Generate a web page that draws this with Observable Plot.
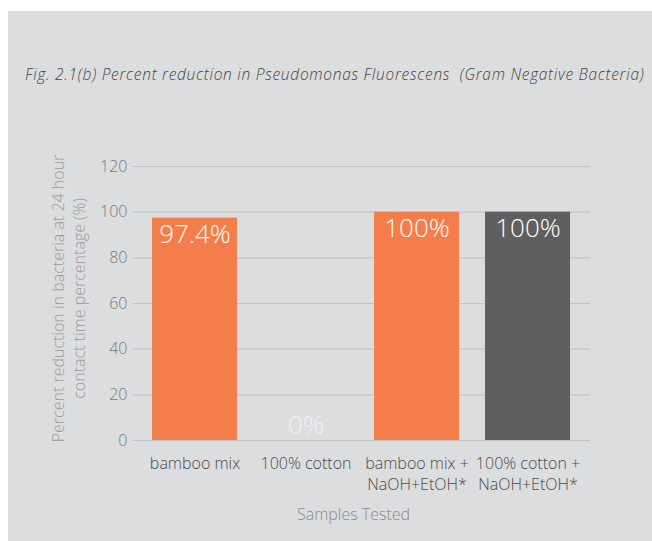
<!DOCTYPE html>
<html>
<head>
<meta charset="utf-8">
<script src="https://cdn.jsdelivr.net/npm/d3@7"></script>
<script src="https://cdn.jsdelivr.net/npm/@observablehq/plot@0.6"></script>
<style>
  html, body { margin: 0; padding: 0; background: #ffffff; width: 652px; height: 541px; overflow: hidden; }
  #panel { position: absolute; left: 8px; top: 11px; width: 644px; height: 530px; background: #dcdddf; }
  #title { position: absolute; left: 25px; top: 63px; font-family: "Open Sans", Lato, sans-serif; font-style: italic; font-size: 15.5px; letter-spacing: 0.72px; line-height: 22px; color: #444444; white-space: nowrap; font-weight: 300; }
  #chart { position: absolute; left: 0; top: 120px; }
</style>
</head>
<body>
<div id="panel"></div>
<div id="title">Fig. 2.1(b) Percent reduction in Pseudomonas Fluorescens&nbsp; (Gram Negative Bacteria)</div>
<div id="chart"></div>
<script>
const categories = ["bamboo mix", "100% cotton", "bamboo mix +\nNaOH+EtOH*", "100% cotton +\nNaOH+EtOH*"];
const values = [97.4, 0, 100, 100];
const valueLabels = ["97.4%", "0%", "100%", "100%"];
const yTicks = [0, 20, 40, 60, 80, 100, 120];
const yTitle = "Percent reduction in bacteria at 24 hour\ncontact time percentage (%)";
const xTitle = "Samples Tested";

const data = categories.map((c, i) => ({category: c, value: values[i], label: valueLabels[i]}));

const chart = Plot.plot({
  width: 652,
  height: 421,
  marginTop: 46,
  marginBottom: 101,
  marginLeft: 132,
  marginRight: 62,
  style: {background: "transparent", fontFamily: "'Open Sans', Lato, sans-serif", fontSize: "15px", fontWeight: 300, overflow: "visible"},
  x: {domain: categories, paddingInner: 0.238, paddingOuter: 0.17, label: null, axis: null},
  y: {domain: [0, 120], label: null, axis: null},
  color: {domain: categories, range: ["#f37d4b", "#f37d4b", "#f37d4b", "#5f5f61"]},
  marks: [
    Plot.ruleY(yTicks, {stroke: "#c3c4c6", strokeWidth: 1.2}),
    Plot.barY(data, {x: "category", y: "value", fill: "category"}),
    Plot.text(data.filter(d => d.value > 0), {x: "category", y: "value", text: "label", dy: 17, fill: "#ffffff", fontSize: 26, fontWeight: 300}),
    Plot.text(data.filter(d => d.value === 0), {x: "category", y: "value", text: "label", dy: -15, fill: "#ffffff", fillOpacity: 0.6, fontSize: 26, fontWeight: 300}),
    Plot.axisX({tickSize: 0, tickPadding: 13, fill: "#4a4a4a", fontSize: 16, lineHeight: 1.32, label: null}),
    Plot.axisY({ticks: yTicks, tickSize: 0, tickPadding: 5, fill: "#777777", fontSize: 16, label: null}),
    Plot.text([yTitle], {frameAnchor: "left", textAnchor: "middle", rotate: -90, dx: -65, dy: -5, text: d => d, fill: "#9a9a9a", fontSize: 16, lineHeight: 1.35}),
    Plot.text([xTitle], {frameAnchor: "bottom", dx: -8, dy: 79, text: d => d, fill: "#8a8a8a", fontSize: 16})
  ]
});
document.getElementById("chart").appendChild(chart);
</script>
</body>
</html>
